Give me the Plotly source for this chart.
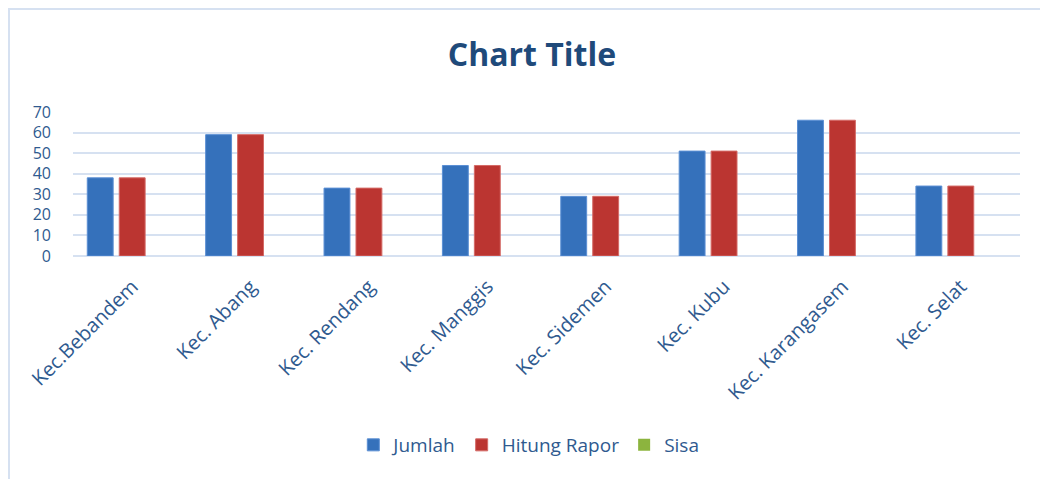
import plotly.graph_objects as go

categories = ["Kec.Bebandem", "Kec. Abang", "Kec. Rendang", "Kec. Manggis",
              "Kec. Sidemen", "Kec. Kubu", "Kec. Karangasem", "Kec. Selat"]
jumlah = [38, 59, 33, 44, 29, 51, 66, 34]
hitung_rapor = [38, 59, 33, 44, 29, 51, 66, 34]
sisa = [0, 0, 0, 0, 0, 0, 0, 0]
y_ticks = [0, 10, 20, 30, 40, 50, 60, 70]

text_color = "#2f5a8f"
font_family = "Open Sans, Noto Sans, sans-serif"

fig = go.Figure()
fig.add_trace(go.Bar(x=categories, y=jumlah, name="Jumlah",
                     marker=dict(color="#3571bb", line=dict(color="#5b8fd4", width=1))))
fig.add_trace(go.Bar(x=categories, y=hitung_rapor, name="Hitung Rapor",
                     marker=dict(color="#bb3531", line=dict(color="#d46a66", width=1))))
fig.add_trace(go.Bar(x=categories, y=sisa, name="Sisa",
                     marker=dict(color="#8cb43e", line=dict(color="#8cb43e", width=0))))

# page body adds an 8px offset; plot area targets x 73..1020, y 112..256 on screen
fig.update_layout(
    width=1048, height=479,
    paper_bgcolor="white", plot_bgcolor="white",
    barmode="group", bargap=0.19, bargroupgap=0.19,
    margin=dict(l=65, r=36, t=104, b=231, autoexpand=False),
    title=dict(text="<b>Chart Title</b>", x=0.5, xanchor="center", y=0.902, yanchor="middle",
               font=dict(family=font_family, size=32, color="#1f4a7a")),
    font=dict(family=font_family, color=text_color),
    xaxis=dict(tickangle=-45, tickfont=dict(size=20, color=text_color),
               showline=False, showgrid=False, ticks="", automargin=False,
               ticklabelstandoff=14),
    yaxis=dict(range=[0, 70], tickvals=y_ticks, showgrid=True, gridcolor="#d6e1f1",
               gridwidth=2, zeroline=True, zerolinecolor="#d6e1f1", zerolinewidth=2,
               tickfont=dict(size=16, color=text_color), ticks="", ticklabelstandoff=21,
               automargin=False),
    legend=dict(orientation="h", x=0.296, xanchor="left", y=-1.3125, yanchor="middle",
                font=dict(size=19, color=text_color), itemwidth=30,
                traceorder="normal"),
    shapes=[dict(type="rect", xref="paper", yref="paper",
                 x0=-0.0676, x1=1.0275, y0=-1.6, y1=1.715,
                 line=dict(color="#d6e1f1", width=2))],
)

fig.write_html("out.html")
